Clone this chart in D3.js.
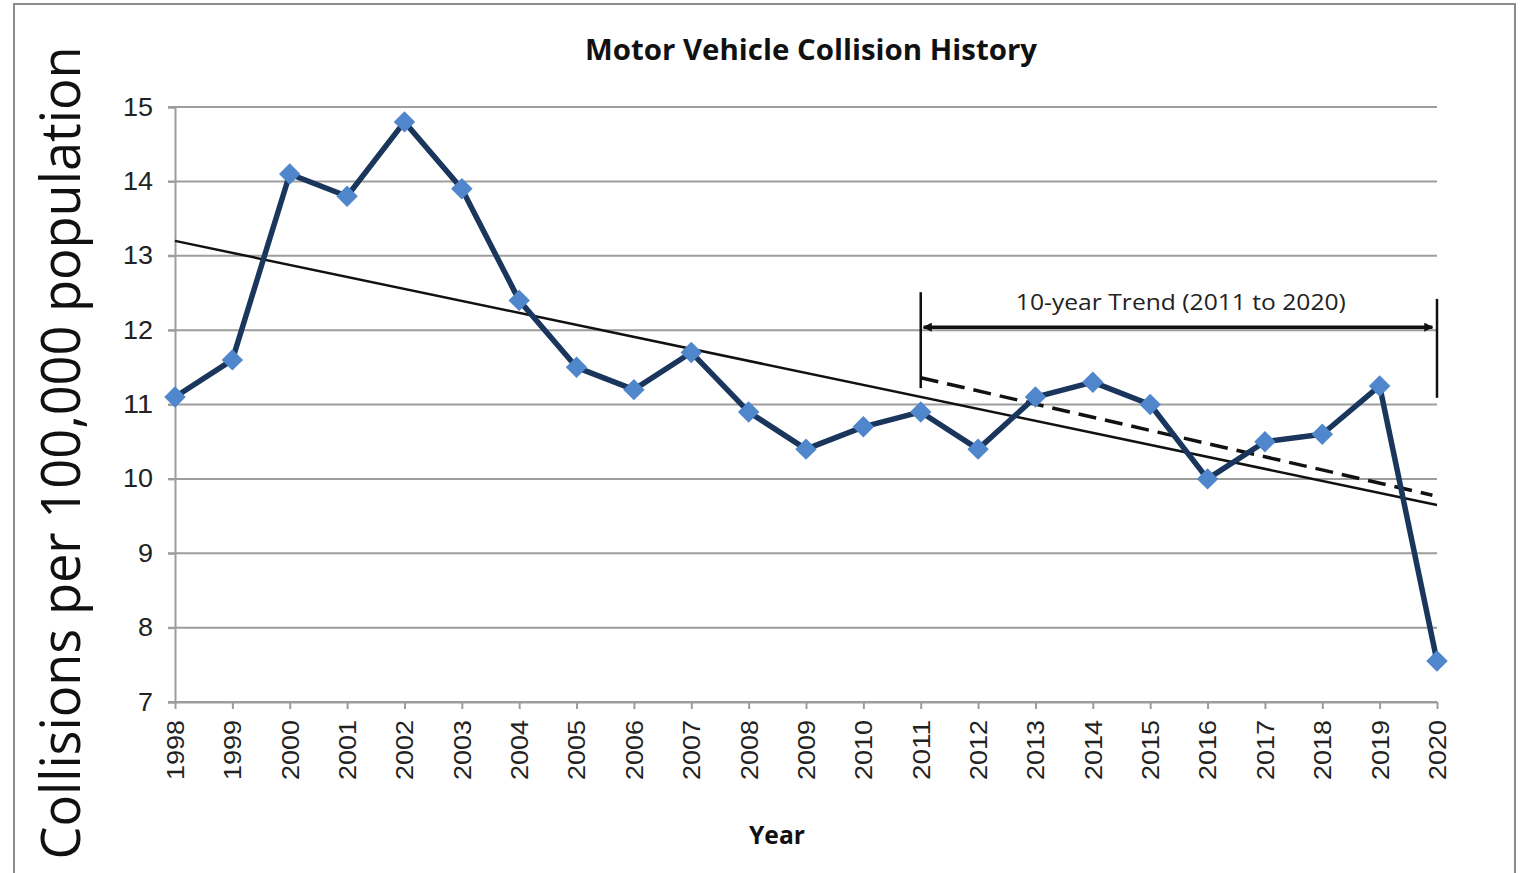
<!DOCTYPE html>
<html lang="en">
<head>
  <meta charset="UTF-8">
  <title>Motor Vehicle Collision History</title>
  <style>
    body { margin: 0; background: #fff; }
    svg { display: block; }
  </style>
</head>
<body>
  <div id="chart"></div>

  <script src="https://d3js.org/d3.v7.min.js"></script>
  <script>
    // data
    var years = d3.range(1998, 2021);
    var rates = [11.1, 11.6, 14.1, 13.8, 14.8, 13.9, 12.4, 11.5, 11.2, 11.7, 10.9, 10.4,
                 10.7, 10.9, 10.4, 11.1, 11.3, 11.0, 10.0, 10.5, 10.6, 11.25, 7.55];
    var yTicks = [7, 8, 9, 10, 11, 12, 13, 14, 15];

    // trend lines: [year, value] end points
    var longTrend = [[1998, 13.2], [2020, 9.65]];
    var tenYearTrend = [[2011, 11.36], [2019.92, 9.78]];

    // bracket for the 10-year trend label
    var bracketLeft = [[2011, 12.51], [2011, 11.22]];
    var bracketRight = [[2020, 12.42], [2020, 11.09]];
    var bracketArrow = [[2011.05, 12.04], [2019.92, 12.04]];

    var W = 1521, H = 873;
    var margin = {top: 107, right: 84, bottom: 171, left: 175};
    var width = W - margin.left - margin.right,
        height = H - margin.top - margin.bottom;

    var root = d3.select("#chart").append("svg")
      .attr("width", W)
      .attr("height", H);

    // outer frame
    root.append("rect")
      .attr("x", 14).attr("y", 4)
      .attr("width", 1501).attr("height", 880)
      .attr("fill", "none")
      .attr("stroke", "#8c8c8c")
      .attr("stroke-width", 2);

    var svg = root.append("g")
      .attr("transform", "translate(" + margin.left + "," + margin.top + ")");

    var x = d3.scaleLinear().domain([1998, 2020]).range([0, width]);
    var y = d3.scaleLinear().domain([7, 15]).range([height, 0]);

    // gridlines
    svg.append("g")
      .selectAll("line")
      .data(yTicks)
      .enter().append("line")
      .attr("x1", -7).attr("x2", width)
      .attr("y1", function(d) { return y(d); })
      .attr("y2", function(d) { return y(d); })
      .attr("stroke", "#9d9d9d")
      .attr("stroke-width", 2);

    // y axis
    var yAxis = svg.append("g")
      .call(d3.axisLeft(y).tickValues(yTicks).tickSize(7).tickPadding(15));
    yAxis.select(".domain").attr("stroke", "#9d9d9d").attr("stroke-width", 2);
    yAxis.selectAll(".tick line").attr("stroke", "#9d9d9d").attr("stroke-width", 2);
    yAxis.selectAll(".tick text")
      .attr("font-family", "Liberation Sans, Arial, sans-serif")
      .attr("font-size", 25)
      .attr("fill", "#222")
      .attr("textLength", function(d) { return String(d).length * 15; })
      .attr("lengthAdjust", "spacingAndGlyphs");

    // x axis
    var xAxis = svg.append("g")
      .attr("transform", "translate(0," + height + ")")
      .call(d3.axisBottom(x).tickValues(years).tickFormat(d3.format("d")).tickSize(7).tickSizeOuter(0));
    xAxis.select(".domain").attr("stroke", "#9d9d9d").attr("stroke-width", 2);
    xAxis.selectAll(".tick line").attr("stroke", "#9d9d9d").attr("stroke-width", 2);
    xAxis.selectAll(".tick text")
      .attr("font-family", "Liberation Sans, Arial, sans-serif")
      .attr("font-size", 24)
      .attr("fill", "#222")
      .attr("text-anchor", "end")
      .attr("dy", "0.35em")
      .attr("transform", "translate(0,18) rotate(-90)")
      .attr("x", 0).attr("y", 0)
      .attr("textLength", 60)
      .attr("lengthAdjust", "spacingAndGlyphs");

    var line = d3.line()
      .x(function(d) { return x(d[0]); })
      .y(function(d) { return y(d[1]); });

    // long-term trend
    svg.append("path")
      .attr("d", line(longTrend))
      .attr("fill", "none")
      .attr("stroke", "#111")
      .attr("stroke-width", 2.5);

    // 10-year trend
    svg.append("path")
      .attr("d", line(tenYearTrend))
      .attr("fill", "none")
      .attr("stroke", "#111")
      .attr("stroke-width", 3.5)
      .attr("stroke-dasharray", "18,9");

    // bracket
    [bracketLeft, bracketRight].forEach(function(b) {
      svg.append("path")
        .attr("d", line(b))
        .attr("stroke", "#111")
        .attr("stroke-width", 2.5);
    });

    var defs = root.append("defs");
    defs.append("marker")
      .attr("id", "arrow")
      .attr("viewBox", "0 0 10 10")
      .attr("refX", 9).attr("refY", 5)
      .attr("markerWidth", 4.5).attr("markerHeight", 2.6)
      .attr("orient", "auto-start-reverse")
      .append("path")
      .attr("d", "M0,0 L10,5 L0,10 z")
      .attr("fill", "#111");

    svg.append("path")
      .attr("d", line(bracketArrow))
      .attr("stroke", "#111")
      .attr("stroke-width", 3.5)
      .attr("marker-start", "url(#arrow)")
      .attr("marker-end", "url(#arrow)");

    svg.append("text")
      .attr("x", (x(2011) + x(2020)) / 2 + 2)
      .attr("y", y(12.04) - 17)
      .attr("text-anchor", "middle")
      .attr("font-family", "Open Sans, sans-serif")
      .attr("font-size", 22)
      .attr("fill", "#222")
      .attr("textLength", 330)
      .attr("lengthAdjust", "spacingAndGlyphs")
      .text("10-year Trend (2011 to 2020)");

    // data series
    var series = years.map(function(yr, i) { return [yr, rates[i]]; });
    svg.append("path")
      .attr("d", line(series))
      .attr("fill", "none")
      .attr("stroke", "#1a365d")
      .attr("stroke-width", 5.5)
      .attr("stroke-linejoin", "round");

    svg.selectAll(".pt")
      .data(series)
      .enter().append("path")
      .attr("class", "pt")
      .attr("d", d3.symbol().type(d3.symbolSquare).size(230))
      .attr("transform", function(d) {
        return "translate(" + x(d[0]) + "," + y(d[1]) + ") rotate(45)";
      })
      .attr("fill", "#4f86cc");

    // title
    root.append("text")
      .attr("x", 811).attr("y", 60)
      .attr("text-anchor", "middle")
      .attr("font-family", "Open Sans, sans-serif")
      .attr("font-weight", "bold")
      .attr("font-size", 28)
      .attr("fill", "#111")
      .attr("textLength", 452)
      .attr("lengthAdjust", "spacingAndGlyphs")
      .text("Motor Vehicle Collision History");

    // x axis title
    root.append("text")
      .attr("x", 777).attr("y", 844)
      .attr("text-anchor", "middle")
      .attr("font-family", "Open Sans, sans-serif")
      .attr("font-weight", "bold")
      .attr("font-size", 25)
      .attr("fill", "#111")
      .attr("textLength", 56)
      .attr("lengthAdjust", "spacingAndGlyphs")
      .text("Year");

    // y axis title
    root.append("text")
      .attr("transform", "translate(80,453) rotate(-90)")
      .attr("text-anchor", "middle")
      .attr("font-family", "Open Sans, sans-serif")
      .attr("font-size", 55)
      .attr("fill", "#111")
      .attr("textLength", 813)
      .attr("lengthAdjust", "spacingAndGlyphs")
      .text("Collisions per 100,000 population");
  </script>
</body>
</html>
